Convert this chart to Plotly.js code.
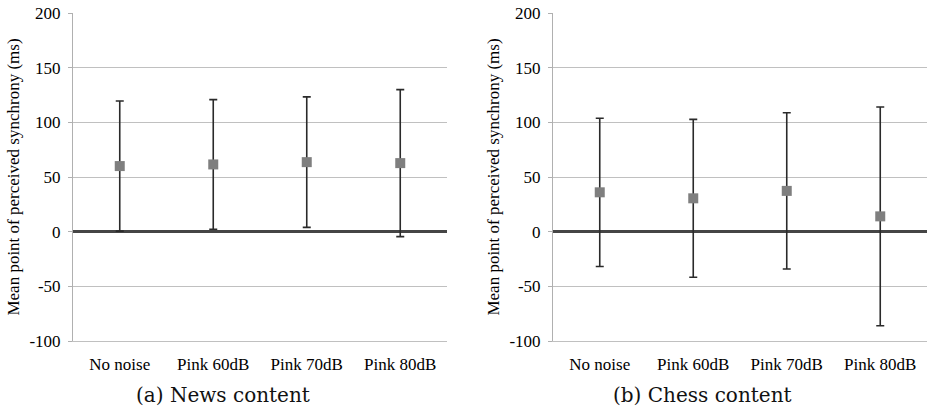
<!DOCTYPE html>
<html>
<head>
<meta charset="utf-8">
<script src="https://cdn.plot.ly/plotly-3.0.1.min.js"></script>
<style>html,body{margin:0;padding:0;background:#fff;}#chart{width:928px;height:409px;}</style>
</head>
<body>
<div id="chart"></div>
<script>
const categories = ["No noise", "Pink 60dB", "Pink 70dB", "Pink 80dB"];
const newsMean = [60, 61.5, 63.6, 62.7];
const newsErr = [59.5, 59.3, 59.7, 67.2];
const chessMean = [36, 30.5, 37.3, 14];
const chessErr = [67.8, 72.2, 71.5, 100];
const yTicks = [-100, -50, 0, 50, 100, 150, 200];
const captions = ["(a) News content", "(b) Chess content"];
const yTitle = "Mean point of perceived synchrony (ms)";

const serif = "Liberation Serif";

function trace(mean, err, xa, ya) {
  return {
    type: "scatter", mode: "markers",
    x: categories, y: mean, xaxis: xa, yaxis: ya,
    marker: {symbol: "square", size: 10, color: "#7f7f7f", line: {width: 0}},
    error_y: {type: "data", array: err, visible: true, color: "#2a2a2a", thickness: 1.6, width: 4},
    showlegend: false, hoverinfo: "skip"
  };
}

const yax = (anchor) => ({
  anchor: anchor,
  range: [-100, 200], tickvals: yTicks, ticktext: yTicks.map(String),
  showgrid: true, gridcolor: "#c0c0c0", gridwidth: 1,
  zeroline: true, zerolinecolor: "#454545", zerolinewidth: 2.5,
  showline: true, linecolor: "#b0b0b0", linewidth: 1,
  ticks: "outside", ticklen: 4, tickcolor: "#b0b0b0",
  ticklabelstandoff: 4,
  tickfont: {family: serif, size: 17, color: "#000"},
  title: {text: yTitle, font: {family: serif, size: 17, color: "#000"}, standoff: 5},
  automargin: false, fixedrange: true
});
const xax = (anchor, dom) => ({
  anchor: anchor, domain: dom, type: "category",
  range: [-0.5, 3.5], showgrid: false, zeroline: false,
  showline: true, linecolor: "#c0c0c0", linewidth: 1,
  ticks: "outside", ticklen: 8, tickcolor: "rgba(0,0,0,0)",
  tickfont: {family: serif, size: 17, color: "#000"},
  automargin: false, fixedrange: true
});

const layout = {
  width: 928, height: 409,
  margin: {l: 0, r: 0, t: 13, b: 68},
  paper_bgcolor: "#fff", plot_bgcolor: "#fff",
  xaxis: xax("y", [73/928, 447/928]),
  xaxis2: xax("y2", [553/928, 927/928]),
  yaxis: yax("x"),
  yaxis2: yax("x2"),
  annotations: [
    {text: captions[0], xref: "paper", yref: "paper", x: 223/928, y: -0.165, xanchor: "center", yanchor: "middle", showarrow: false, font: {family: "DejaVu Serif", size: 20, color: "#111"}},
    {text: captions[1], xref: "paper", yref: "paper", x: 702/928, y: -0.165, xanchor: "center", yanchor: "middle", showarrow: false, font: {family: "DejaVu Serif", size: 20, color: "#111"}}
  ]
};

Plotly.newPlot("chart", [trace(newsMean, newsErr, "x", "y"), trace(chessMean, chessErr, "x2", "y2")], layout, {staticPlot: true, displayModeBar: false});
</script>
</body>
</html>
